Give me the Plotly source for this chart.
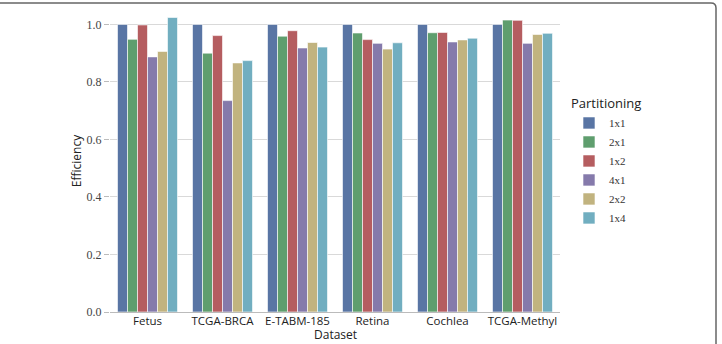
import plotly.graph_objects as go

datasets = ["Fetus", "TCGA-BRCA", "E-TABM-185", "Retina", "Cochlea", "TCGA-Methyl"]
partitions = ["1x1", "2x1", "1x2", "4x1", "2x2", "1x4"]
eff_1x1 = [1.0, 1.0, 1.0, 1.0, 1.0, 1.0]
eff_2x1 = [0.948, 0.900, 0.959, 0.970, 0.971, 1.015]
eff_1x2 = [0.998, 0.961, 0.978, 0.947, 0.972, 1.014]
eff_4x1 = [0.887, 0.735, 0.918, 0.934, 0.939, 0.934]
eff_2x2 = [0.906, 0.866, 0.937, 0.914, 0.946, 0.965]
eff_1x4 = [1.024, 0.874, 0.921, 0.936, 0.952, 0.969]
series = [eff_1x1, eff_2x1, eff_1x2, eff_4x1, eff_2x2, eff_1x4]
colors = ["#5975A4", "#5F9E6E", "#B55D60", "#857AAB", "#C1B37F", "#71AEC0"]

SERIF = "Liberation Serif"
SANS = "Open Sans"

fig = go.Figure()
for name, vals, c in zip(partitions, series, colors):
    fig.add_trace(go.Bar(
        x=datasets, y=vals, name=name,
        marker=dict(color=c, line=dict(color="rgba(255,255,255,0.6)", width=1)),
    ))

W, H = 722, 344
ml, mr, mt, mb = 110, 162, 10, 32
pw, ph = W - ml - mr, H - mt - mb

def px(x):
    return (x - ml) / pw

def py(y):
    return (H - mb - y) / ph

rx, ry = 5 / pw, 5 / ph
xt, yt = px(716), py(3)
border = (f"M {px(-5)},{yt} L {xt - rx},{yt} Q {xt},{yt} {xt},{yt - ry} "
          f"L {xt},{py(350)}")

fig.update_layout(
    width=W, height=H,
    margin=dict(l=ml, r=mr, t=mt, b=mb, autoexpand=False),
    paper_bgcolor="white", plot_bgcolor="white",
    barmode="group", bargap=0.2, bargroupgap=0,
    font=dict(family=SANS, size=12, color="#222"),
    xaxis=dict(
        automargin=False,
        showline=True, linecolor="#bbbbbb", linewidth=1,
        ticks="", ticklen=0, ticklabelstandoff=-2,
        tickfont=dict(family=SANS, size=11.5, color="#222"),
        showgrid=False,
    ),
    yaxis=dict(
        title=dict(text="Efficiency", font=dict(family=SANS, size=12), standoff=2),
        automargin=False,
        range=[0, 1.05], tickvals=[0, 0.2, 0.4, 0.6, 0.8, 1.0],
        tickformat=".1f",
        tickfont=dict(family=SERIF, size=12, color="#444"),
        ticks="outside", ticklen=5, tickcolor="#bbbbbb", tickwidth=1,
        showgrid=True, gridcolor="#d9d9d9", gridwidth=1,
        showline=False, zeroline=False,
    ),
    legend=dict(
        x=1.02, y=0.73, xanchor="left", yanchor="top",
        title=dict(text="Partitioning", font=dict(family=SANS, size=13, color="#222")),
        font=dict(family=SERIF, size=11, color="#333"),
        tracegroupgap=0, itemwidth=30,
    ),
    annotations=[dict(text="Dataset", xref="paper", yref="paper",
                      x=0.5, y=py(343.5), xanchor="center", yanchor="bottom",
                      borderpad=0,
                      showarrow=False, font=dict(family=SANS, size=12, color="#222"))],
    shapes=[dict(type="path", xref="paper", yref="paper", path=border,
                 line=dict(color="#666666", width=1.5))],
)

fig.write_html("out.html")
